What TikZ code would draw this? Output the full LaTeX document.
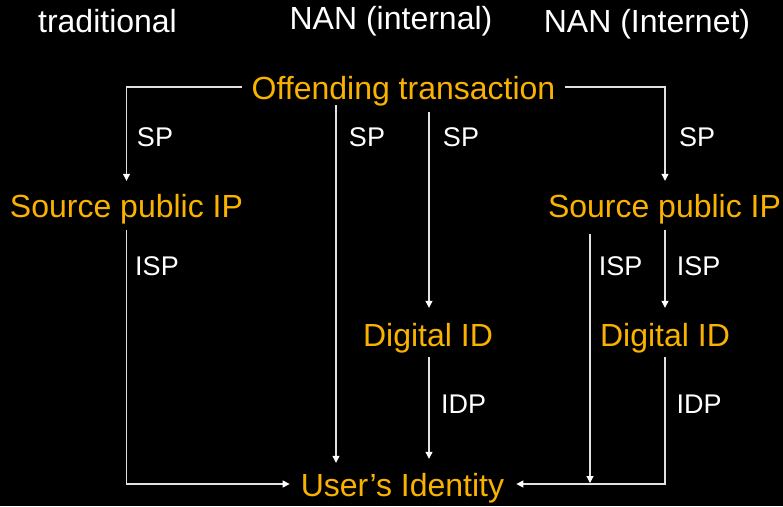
\documentclass[tikz,border=0pt]{standalone}
\usepackage{fontspec}
\setmainfont{Liberation Sans}
\usetikzlibrary{arrows.meta}
\definecolor{idorange}{RGB}{250,178,0}
\definecolor{wire}{RGB}{225,225,225}
\begin{document}
\begin{tikzpicture}[x=1pt,y=-1pt,
  heading/.style={anchor=base,text=white,inner sep=0pt,font=\fontsize{32}{38}\selectfont},
  entity/.style={anchor=base,text=idorange,inner sep=0pt,text height=24pt,text depth=0pt,font=\fontsize{32}{38}\selectfont},
  role/.style={anchor=base,text=white,inner sep=0pt,font=\fontsize{27}{32}\selectfont},
  link/.style={draw=wire,line width=1.1pt,-{Triangle[width=7pt,length=7pt,color=white]}},
  plain/.style={draw=wire,line width=1.1pt}]
  \fill[black] (0,0) rectangle (783,506);
  \useasboundingbox (0,0) rectangle (783,506);

  % column headings
  \node[heading] (hTrad) at (107.5,32) {traditional};
  \node[heading] (hInt)  at (391,29)   {NAN (internal)};
  \node[heading] (hNet)  at (647,32)   {NAN (Internet)};

  % entities
  \node[entity] (off)  at (403.5,99) {Offending transaction};
  \node[entity] (srcL) at (126.5,217) {Source public IP};
  \node[entity] (srcR) at (664.5,217) {Source public IP};
  \node[entity] (digM) at (428,346) {Digital ID};
  \node[entity] (digR) at (665,346) {Digital ID};
  \node[entity] (user) at (402.5,496) {User’s Identity};

  % vertical lanes
  \coordinate (laneA) at (336,0);
  \coordinate (laneB) at (429,0);
  \coordinate (laneC) at (590,0);
  \coordinate (laneD) at (665,0);

  % traditional path
  \draw[link,shorten <=9.5pt,shorten >=12pt] (off.west) -| (srcL.north);
  \draw[link,shorten <=13pt,shorten >=11pt] (srcL.south) |- (user.west);

  % NAN (internal) paths
  \draw[link,shorten <=6pt,shorten >=9pt] (off.south -| laneA) -- (user.north -| laneA);
  \draw[link,shorten <=13pt,shorten >=14pt] (off.south -| laneB) -- (digM.north -| laneB);
  \draw[link,shorten <=11pt,shorten >=13pt] (digM.south -| laneB) -- (user.north -| laneB);

  % NAN (Internet) paths
  \draw[link,shorten <=9.5pt,shorten >=12pt] (off.east) -| (srcR.north -| laneD);
  \draw[link,shorten <=17pt,shorten >=1pt] (srcR.south -| laneC) -- (user.east -| laneC);
  \draw[link,shorten <=13pt,shorten >=14pt] (srcR.south -| laneD) -- (digR.north -| laneD);
  \draw[link,shorten <=11pt,shorten >=12pt] (digR.south -| laneD) |- (user.east);

  % role labels
  \node[role] (sp1) at (155,146) {SP};
  \node[role] (sp2) at (367,146) {SP};
  \node[role] (sp3) at (461,146) {SP};
  \node[role] (sp4) at (697,146) {SP};
  \node[role] (isp1) at (157,275) {ISP};
  \node[role] (isp2) at (620.5,275) {ISP};
  \node[role] (isp3) at (698.5,275) {ISP};
  \node[role] (idp1) at (463.5,413) {IDP};
  \node[role] (idp2) at (699,413) {IDP};
\end{tikzpicture}
\end{document}
